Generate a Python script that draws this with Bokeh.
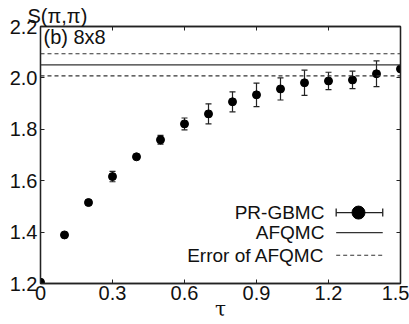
import math
from bokeh.plotting import figure
from bokeh.models import (ColumnDataSource, Whisker, TeeHead, FixedTicker, LinearAxis,
                          Label, Span, Range1d)
from bokeh.embed import file_html
from bokeh.resources import INLINE

# ---- data ----
tau = [0.0, 0.1, 0.2, 0.3, 0.4, 0.5, 0.6, 0.7, 0.8, 0.9, 1.0, 1.1, 1.2, 1.3, 1.4, 1.5]
s_val = [1.205, 1.389, 1.515, 1.616, 1.693, 1.759, 1.821, 1.860, 1.907, 1.934,
         1.957, 1.981, 1.988, 1.992, 2.016, 2.035]
s_err = [0.0, 0.0, 0.0, 0.02, 0.005, 0.017, 0.023, 0.039, 0.039, 0.046,
         0.043, 0.049, 0.034, 0.034, 0.05, 0.006]
afqmc = 2.051
afqmc_err = 0.043
x_ticks = [0.0, 0.3, 0.6, 0.9, 1.2, 1.5]
x_tick_labels = ["0", "0.3", "0.6", "0.9", "1.2", "1.5"]
y_ticks = [1.2, 1.4, 1.6, 1.8, 2.0, 2.2]
y_tick_labels = ["1.2", "1.4", "1.6", "1.8", "2.0", "2.2"]
legend_labels = ["PR-GBMC", "AFQMC", "Error of AFQMC"]

FONT = "Liberation Sans"
AX = "#222222"

p = figure(frame_width=360, frame_height=257, output_backend="svg", toolbar_location=None,
           x_range=Range1d(0, 1.5), y_range=Range1d(1.2, 2.2),
           min_border_left=40, min_border_right=9, min_border_top=26, min_border_bottom=30,
           background_fill_color="white", border_fill_color="white",
           title="S(π,π)")
p.grid.visible = False
p.outline_line_color = AX
p.outline_line_width = 1.3

p.title.align = "left"
p.title.offset = -13
p.title.standoff = 0
p.title.text_font = FONT
p.title.text_font_size = "20px"
p.title.text_font_style = "normal"
p.title.text_color = "#111111"

src = ColumnDataSource(dict(t=tau, s=s_val,
                            lo=[v - e for v, e in zip(s_val, s_err)],
                            hi=[v + e for v, e in zip(s_val, s_err)]))

# AFQMC reference lines
p.add_layout(Span(location=afqmc, dimension="width", line_color="#333333", line_width=1.2))
p.add_layout(Span(location=afqmc + afqmc_err, dimension="width", line_color="#333333",
                  line_width=1.2, line_dash="4 3"))
p.add_layout(Span(location=afqmc - afqmc_err, dimension="width", line_color="#333333",
                  line_width=1.2, line_dash="4 3"))

w = Whisker(source=src, base="t", lower="lo", upper="hi", line_color="#222222", line_width=1.2,
            upper_head=TeeHead(size=6, line_color="#222222", line_width=1.2),
            lower_head=TeeHead(size=6, line_color="#222222", line_width=1.2))
p.add_layout(w)
p.scatter("t", "s", source=src, size=8, color="black")

# axes styling
def style_axis(ax, ticks, labels, show_labels):
    ax.ticker = FixedTicker(ticks=ticks)
    ax.major_label_overrides = {t: l for t, l in zip(ticks, labels)}
    ax.minor_tick_line_color = None
    ax.major_tick_in = 4
    ax.major_tick_out = 0
    ax.axis_line_color = AX
    ax.axis_line_width = 1.3
    ax.major_tick_line_color = AX
    ax.major_label_text_font = FONT
    ax.major_label_text_color = "#111111"
    ax.major_label_standoff = 3
    if show_labels:
        ax.major_label_text_font_size = "20px"
    else:
        ax.major_label_text_alpha = 0
        ax.major_label_text_font_size = "1px"

style_axis(p.xaxis[0], x_ticks, x_tick_labels, True)
style_axis(p.yaxis[0], y_ticks, y_tick_labels, True)
p.xaxis[0].axis_label = "τ"
p.xaxis[0].axis_label_text_font = "DejaVu Serif"
p.xaxis[0].axis_label_text_font_style = "normal"
p.xaxis[0].axis_label_text_font_size = "20px"
p.xaxis[0].axis_label_text_color = "#111111"
p.xaxis[0].axis_label_standoff = -6
p.xaxis[0].major_label_standoff = 2

top = LinearAxis()
right = LinearAxis()
style_axis(top, x_ticks, x_tick_labels, False)
style_axis(right, y_ticks, y_tick_labels, False)
top.major_label_standoff = 0
right.major_label_standoff = 0
p.add_layout(top, "above")
p.add_layout(right, "right")

# panel tag inside the frame
p.add_layout(Label(x=3, y=247, x_units="screen", y_units="screen", text="(b) 8x8",
                   text_font=FONT, text_font_size="20px", text_color="#111111",
                   text_baseline="alphabetic"))

# manual legend (label left, glyph right)
leg_y = [1.476, 1.398, 1.310]
leg_text_x = 1.183
sw_x0, sw_x1, sw_mid = 1.232, 1.426, 1.325
for lab, yy in zip(legend_labels, leg_y):
    p.add_layout(Label(x=leg_text_x, y=yy, text=lab, text_font=FONT, text_font_size="19px",
                       text_color="#111111", text_align="right", text_baseline="middle"))
p.segment(x0=[sw_x0], y0=[leg_y[0]], x1=[sw_x1], y1=[leg_y[0]], line_color="#222222", line_width=1.3)
p.scatter(x=[sw_x0, sw_x1], y=[leg_y[0], leg_y[0]], marker="dash", angle=math.pi / 2,
          size=8, line_color="#222222", line_width=1.3)
p.scatter(x=[sw_mid], y=[leg_y[0]], size=13, color="black")
p.segment(x0=[sw_x0], y0=[leg_y[1]], x1=[sw_x1], y1=[leg_y[1]], line_color="#333333", line_width=1.2)
p.segment(x0=[sw_x0], y0=[leg_y[2]], x1=[sw_x1], y1=[leg_y[2]], line_color="#333333",
          line_width=1.2, line_dash="4 3")

open("out.html", "w").write(file_html(p, INLINE))
